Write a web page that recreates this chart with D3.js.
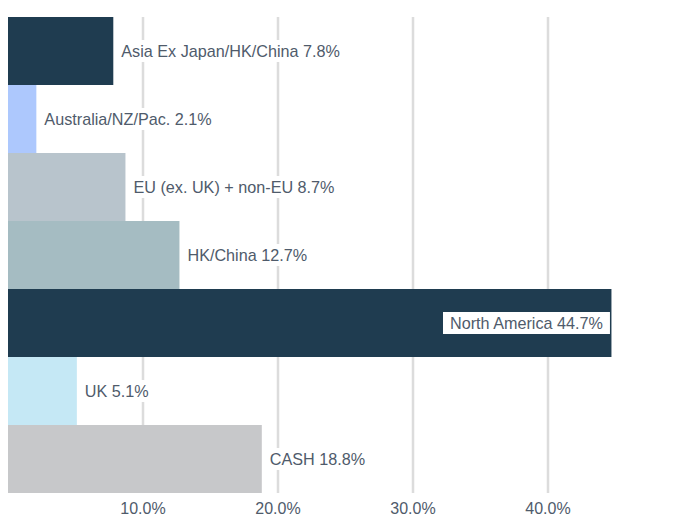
<!DOCTYPE html>
<html>
<head>
<meta charset="utf-8">
<script src="https://cdn.jsdelivr.net/npm/d3@7"></script>
<style>
  body { margin: 0; background: #fff; }
  text { font-family: "Liberation Sans", Arial, sans-serif; }
</style>
</head>
<body>
<div class="svgcontainer"></div>
<script>
const categories = ["Asia Ex Japan/HK/China", "Australia/NZ/Pac.", "EU (ex. UK) + non-EU", "HK/China", "North America", "UK", "CASH"];
const values = [7.8, 2.1, 8.7, 12.7, 44.7, 5.1, 18.8];
const colors = ["#1f3c50", "#adc8fd", "#b8c4cc", "#a5bcc2", "#1f3c50", "#c5e8f5", "#c7c8ca"];
const ticks = [10, 20, 30, 40];

const width = 673, height = 516;
const margin = {top: 17, right: 4, bottom: 23, left: 8};

const svg = d3.select('.svgcontainer')
  .append('svg')
  .attr('width', width)
  .attr('height', height);

const x = d3.scaleLinear().domain([0, 49]).range([margin.left, margin.left + 49 * 13.5]);
const y = d3.scaleBand().domain(categories).range([margin.top, height - margin.bottom]).padding(0);

// gridlines
svg.selectAll('.grid')
  .data(ticks)
  .enter()
  .append('line')
  .attr('class', 'grid')
  .attr('x1', d => x(d)).attr('x2', d => x(d))
  .attr('y1', margin.top).attr('y2', height - margin.bottom)
  .attr('stroke', '#dcdcdc')
  .attr('stroke-width', 2.5);

// bars
svg.selectAll('.bar')
  .data(values)
  .enter()
  .append('rect')
  .attr('class', 'bar')
  .attr('x', x(0))
  .attr('y', (d, i) => y(categories[i]))
  .attr('width', d => x(d) - x(0))
  .attr('height', y.bandwidth())
  .attr('fill', (d, i) => colors[i]);

// labels with white boxes
const lab = svg.selectAll('.lab')
  .data(values)
  .enter()
  .append('g')
  .attr('class', 'lab');

lab.each(function(d, i) {
  const g = d3.select(this);
  const inside = d > 40;
  const cy = y(categories[i]) + y.bandwidth() / 2;
  const t = g.append('text')
    .attr('y', cy)
    .attr('dy', '0.35em')
    .attr('font-size', 16.2)
    .attr('fill', '#4f5b6b')
    .text(categories[i] + ' ' + d.toFixed(1) + '%');
  const w = t.node().getComputedTextLength();
  const tx = inside ? x(d) - 8.5 - w : x(d) + 8;
  t.attr('x', tx);
  g.insert('rect', 'text')
    .attr('x', tx - 7)
    .attr('y', cy - 11)
    .attr('width', w + 14)
    .attr('height', 22)
    .attr('fill', '#fff');
});

// x axis labels
svg.selectAll('.tick-label')
  .data(ticks)
  .enter()
  .append('text')
  .attr('class', 'tick-label')
  .attr('x', d => x(d))
  .attr('y', 514)
  .attr('text-anchor', 'middle')
  .attr('font-size', 16)
  .attr('fill', '#4f5b6b')
  .text(d => d.toFixed(1) + '%');
</script>
</body>
</html>
